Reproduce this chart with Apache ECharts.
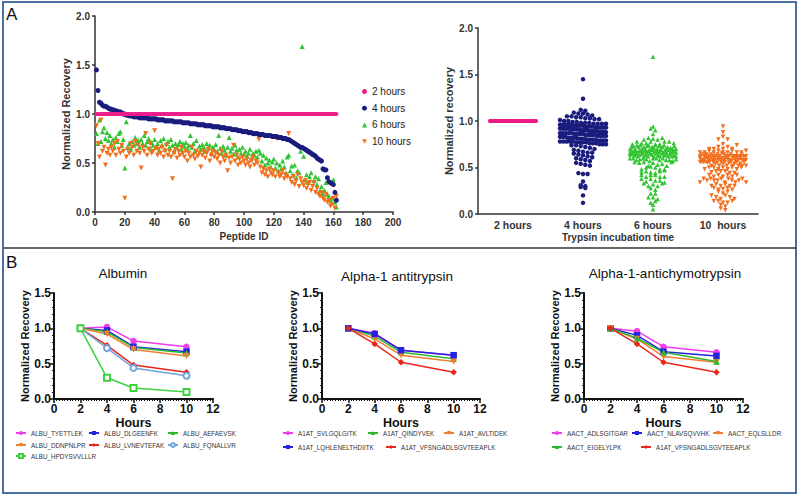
<!DOCTYPE html>
<html><head><meta charset="utf-8">
<script src="https://cdn.jsdelivr.net/npm/echarts@6.0.0/dist/echarts.min.js"></script>
<style>html,body{margin:0;padding:0;background:#fff}#c{width:800px;height:497px}</style>
</head><body><div id="c"></div>
<script>
// ---------- Panel A data (normalized recovery per peptide, sorted by 4 h) ----------
const rec2h = [
1,1,1,1,1,1,1,1,1,1, 1,1,1,1,1,1,1,1,1,1, 1,1,1,1,1,1,1,1,1,1, 1,1,1,1,1,1,1,1,1,1,
1,1,1,1,1,1,1,1,1,1, 1,1,1,1,1,1,1,1,1,1, 1,1,1,1,1,1,1,1,1,1, 1,1,1,1,1,1,1,1,1,1,
1,1,1,1,1,1,1,1,1,1, 1,1,1,1,1,1,1,1,1,1, 1,1,1,1,1,1,1,1,1,1, 1,1,1,1,1,1,1,1,1,1,
1,1,1,1,1,1,1,1,1,1, 1,1,1,1,1,1,1,1,1,1, 1,1,1,1,1,1,1,1,1,1, 1,1,1,1,1,1,1,1,1,1, 1,1];
const rec4h = [
1.45,1.24,1.12,1.11,1.09,1.08,1.08,1.07,1.06,1.05,
1.05,1.04,1.04,1.03,1.03,1.02,1.02,1.01,1.00,1.00,
0.99,0.99,0.98,0.98,0.98,0.97,0.97,0.97,0.97,0.96,
0.96,0.96,0.96,0.96,0.96,0.95,0.95,0.95,0.95,0.95,
0.95,0.94,0.94,0.94,0.94,0.94,0.93,0.93,0.93,0.93,
0.93,0.93,0.92,0.92,0.92,0.92,0.92,0.92,0.91,0.91,
0.91,0.91,0.91,0.90,0.90,0.90,0.90,0.90,0.89,0.89,
0.89,0.89,0.89,0.88,0.88,0.88,0.88,0.88,0.87,0.87,
0.87,0.87,0.87,0.86,0.86,0.86,0.86,0.85,0.85,0.85,
0.85,0.84,0.84,0.84,0.84,0.83,0.83,0.83,0.82,0.82,
0.82,0.82,0.81,0.81,0.81,0.80,0.80,0.80,0.80,0.79,
0.79,0.79,0.79,0.78,0.78,0.78,0.78,0.78,0.77,0.77,
0.77,0.77,0.76,0.76,0.76,0.75,0.75,0.75,0.74,0.74,
0.73,0.72,0.71,0.70,0.69,0.68,0.67,0.66,0.66,0.65,
0.64,0.63,0.62,0.61,0.60,0.59,0.58,0.57,0.55,0.54,
0.53,0.52,0.44,0.43,0.43,0.35,0.31,0.30,0.29,0.28,0.20,0.12];
const rec6h = [
0.80,0.70,0.94,0.72,0.82,0.86,0.75,0.81,0.73,0.78,
0.70,0.74,0.66,0.76,0.72,0.80,0.82,0.68,0.74,0.45,
0.92,0.66,0.70,0.64,0.72,0.68,0.76,0.70,0.73,0.66,
0.74,0.70,0.78,0.68,0.72,0.75,0.65,0.71,0.68,0.74,
0.66,0.70,0.63,0.73,0.68,0.75,0.64,0.70,0.72,0.66,
0.74,0.68,0.62,0.70,0.66,0.69,0.72,0.64,0.70,0.67,
0.71,0.65,0.68,0.78,0.66,0.70,0.62,0.73,0.90,0.67,
0.64,0.69,0.66,0.62,0.70,0.65,0.68,0.60,0.66,0.64,
0.69,0.62,0.78,0.65,0.60,0.67,0.63,0.58,0.66,0.76,
0.62,0.65,0.59,0.68,0.63,0.56,0.64,0.60,0.66,0.59,
0.62,0.57,0.60,0.64,0.55,0.60,0.58,0.62,0.56,0.63,
0.60,0.52,0.58,0.48,0.55,0.50,0.53,0.46,0.51,0.54,
0.45,0.50,0.42,0.48,0.44,0.52,0.46,0.40,0.56,0.58,
0.42,0.47,0.38,0.48,0.35,0.42,0.40,0.62,1.69,0.57,
0.33,0.38,0.30,0.36,0.40,0.59,0.32,0.36,0.28,0.34,
0.22,0.26,0.18,0.22,0.30,0.18,0.16,0.12,0.14,0.33,0.10,0.05];
const rec10h = [
0.88,0.70,0.56,0.94,0.62,0.66,0.48,0.60,0.64,0.58,
0.66,0.62,0.70,0.58,0.72,0.64,0.60,0.68,0.62,0.14,
0.56,0.64,0.60,0.70,0.66,0.58,0.72,0.62,0.68,0.60,
0.45,0.66,0.62,0.80,0.58,0.64,0.70,0.60,0.62,0.83,
0.65,0.58,0.64,0.60,0.66,0.56,0.62,0.68,0.58,0.62,
0.56,0.34,0.60,0.64,0.55,0.62,0.58,0.66,0.60,0.56,
0.62,0.52,0.60,0.56,0.66,0.58,0.54,0.62,0.57,0.60,
0.46,0.58,0.62,0.55,0.60,0.64,0.52,0.58,0.62,0.56,
0.60,0.54,0.58,0.50,0.62,0.56,0.52,0.58,0.42,0.55,
0.50,0.56,0.68,0.52,0.58,0.48,0.54,0.50,0.56,0.52,
0.48,0.54,0.50,0.46,0.52,0.56,0.48,0.52,0.50,0.74,
0.46,0.40,0.44,0.38,0.42,0.36,0.44,0.40,0.38,0.42,
0.36,0.75,0.40,0.36,0.38,0.42,0.34,0.38,0.36,0.80,
0.34,0.30,0.36,0.28,0.32,0.38,0.26,0.34,0.30,0.27,
0.32,0.24,0.28,0.30,0.22,0.26,0.30,0.20,0.24,0.18,
0.16,0.20,0.14,0.12,0.18,0.10,0.12,0.06,0.08,0.14,0.04,0.16];
const seriesNamesA = ['2 hours','4 hours','6 hours','10 hours'];
const timeCats = ['2 hours','4 hours','6 hours','10  hours'];

// ---------- Panel B data ----------
const hours = [2,4,6,10];
const albuNames = ['ALBU_TYETTLEK','ALBU_DLGEENFK','ALBU_AEFAEVSK','ALBU_DDNPNLPR','ALBU_LVNEVTEFAK','ALBU_FQNALLVR','ALBU_HPDYSVVLLLR'];
const albuVals = [
  [1.00,1.02,0.82,0.74],
  [1.00,0.97,0.74,0.67],
  [1.00,0.95,0.73,0.65],
  [1.00,0.92,0.70,0.61],
  [1.00,0.76,0.48,0.38],
  [1.00,0.72,0.44,0.33],
  [1.00,0.30,0.155,0.10]];
const a1atNames = ['A1AT_SVLGQLGITK','A1AT_QINDYVEK','A1AT_AVLTIDEK','A1AT_LQHLENELTHDIITK','A1AT_VFSNGADLSGVTEEAPLK'];
const a1atVals = [
  [1.00,0.93,0.69,0.62],
  [1.00,0.89,0.66,0.57],
  [1.00,0.85,0.62,0.53],
  [1.00,0.92,0.69,0.62],
  [1.00,0.78,0.52,0.38]];
const aactNames = ['AACT_ADLSGITGAR','AACT_NLAVSQVVHK','AACT_EQLSLLDR','AACT_EIGELYLPK','A1AT_VFSNGADLSGVTEEAPLK'];
const aactVals = [
  [1.00,0.96,0.74,0.66],
  [1.00,0.90,0.67,0.61],
  [1.00,0.85,0.60,0.52],
  [1.00,0.86,0.66,0.53],
  [1.00,0.78,0.52,0.38]];

// ---------- styles ----------
const DOWN = 'path://M0,0L10,0L5,9Z';
const colA = {'2 hours':'#ee1d8a','4 hours':'#1a1c7e','6 hours':'#33c433','10 hours':'#f26f1e'};
const symA = {'2 hours':'circle','4 hours':'circle','6 hours':'triangle','10 hours':DOWN};
const sizeA = {'2 hours':4,'4 hours':5,'6 hours':5,'10 hours':5};
const styB = {
  magenta:{c:'#ee3cee',s:'circle'}, blue:{c:'#2323e0',s:'rect'}, green:{c:'#2fb82f',s:'triangle'},
  orange:{c:'#f08030',s:DOWN}, red:{c:'#e8261c',s:'diamond'}, ltblue:{c:'#6fa3dc',s:'emptyCircle'},
  ltgreen:{c:'#3dd23d',s:'emptyRect'}};
const albuSty = ['magenta','blue','green','orange','red','ltblue','ltgreen'];
const a1atSty = ['magenta','green','orange','blue','red'];
const aactSty = ['magenta','blue','orange','green','red'];

const chart = echarts.init(document.getElementById('c'), null, {renderer:'svg'});
const FONT = 'Liberation Sans, Arial, sans-serif';

function beeswarm(vals, cat){
  const binH = 0.045, sp = 4.6, maxW = 46;
  const bins = {};
  vals.forEach(v => { const k = Math.round(v/binH); (bins[k] = bins[k] || []).push(v); });
  const out = [];
  Object.keys(bins).forEach(k => {
    const arr = bins[k], n = arr.length;
    const s = n > 1 ? Math.min(sp, maxW/(n-1)) : 0;
    arr.forEach((v,i) => out.push({value:[cat, v], symbolOffset:[(i-(n-1)/2)*s, 0]}));
  });
  return out;
}

const grids = [
  {left:95, top:16, width:298, height:196},
  {left:478, top:28, width:280, height:186},
  {left:54, top:293, width:159, height:106},
  {left:322, top:293, width:158, height:106},
  {left:584, top:293, width:159, height:106}
];
const axA = {color:'#333', width:1.5};
const lblA = {fontSize:10, fontWeight:'bold', color:'#333', fontFamily:FONT};
const xAxes = [
  {gridIndex:0, type:'value', min:0, max:200, interval:20, splitLine:{show:false},
   axisLine:{lineStyle:axA}, axisTick:{length:3, lineStyle:axA}, axisLabel:Object.assign({margin:5}, lblA),
   name:'Peptide ID', nameLocation:'middle', nameGap:19, nameTextStyle:lblA},
  {gridIndex:1, type:'category', data:timeCats, boundaryGap:true,
   axisLine:{lineStyle:axA}, axisTick:{alignWithLabel:true, length:3, lineStyle:axA},
   axisLabel:Object.assign({margin:5}, lblA, {fontSize:10.5}),
   name:'Trypsin incubation time', nameLocation:'middle', nameGap:18, nameTextStyle:lblA}
];
const yAxes = [
  {gridIndex:0, type:'value', min:0, max:2, interval:0.5, splitLine:{show:false},
   axisLine:{show:true, lineStyle:axA}, axisTick:{show:true, length:3, lineStyle:axA},
   axisLabel:Object.assign({formatter:v=>v.toFixed(1), margin:5}, lblA),
   name:'Normalized Recovery', nameLocation:'middle', nameGap:24, nameTextStyle:Object.assign({}, lblA, {fontSize:11})},
  {gridIndex:1, type:'value', min:0, max:2, interval:0.5, splitLine:{show:false},
   axisLine:{show:true, lineStyle:axA}, axisTick:{show:true, length:3, lineStyle:axA},
   axisLabel:Object.assign({formatter:v=>v.toFixed(1), margin:5}, lblA),
   name:'Normalized recovery', nameLocation:'middle', nameGap:24, nameTextStyle:Object.assign({}, lblA, {fontSize:11})}
];
const axB = {color:'#111', width:2};
const lblB = {fontSize:12, fontWeight:'bold', color:'#111', fontFamily:FONT};
for (let g = 2; g <= 4; g++) {
  xAxes.push({gridIndex:g, type:'value', min:0, max:12, interval:2, splitLine:{show:false},
    axisLine:{lineStyle:axB}, axisTick:{length:4, lineStyle:{color:'#111', width:1.5}},
    minorTick:{show:true, splitNumber:10, length:2, lineStyle:{color:'#111', width:1}},
    axisLabel:Object.assign({margin:4}, lblB),
    name:'Hours', nameLocation:'middle', nameGap:17, nameTextStyle:Object.assign({}, lblB, {fontSize:12.5})});
  yAxes.push({gridIndex:g, type:'value', min:0, max:1.5, interval:0.5, splitLine:{show:false},
    axisLine:{show:true, lineStyle:axB}, axisTick:{show:true, length:4, lineStyle:{color:'#111', width:1.5}},
    minorTick:{show:true, splitNumber:5, length:2, lineStyle:{color:'#111', width:1}},
    axisLabel:Object.assign({formatter:v=>v.toFixed(1), margin:3}, lblB),
    name:'Normalized Recovery', nameLocation:'middle', nameGap:20, nameTextStyle:Object.assign({}, lblB, {fontSize:11})});
}

const series = [];
const dataA = {'2 hours':rec2h,'4 hours':rec4h,'6 hours':rec6h,'10 hours':rec10h};
['6 hours','10 hours','4 hours','2 hours'].forEach(n => {
  series.push({type:'scatter', name:n, xAxisIndex:0, yAxisIndex:0, symbol:symA[n], symbolSize:sizeA[n],
    itemStyle:{color:colA[n], opacity:1}, emphasis:{disabled:true}, silent:true,
    data:dataA[n].map((v,i)=>[i+1, v])});
});
seriesNamesA.forEach((n,ci) => {
  series.push({type:'scatter', name:n, xAxisIndex:1, yAxisIndex:1, symbol:symA[n], symbolSize:n==='2 hours'?4:4.5,
    itemStyle:{color:colA[n], opacity:1}, emphasis:{disabled:true}, silent:true,
    data:beeswarm(dataA[n], ci)});
});
function addLines(names, vals, stys, g){
  names.forEach((n,i) => {
    const st = styB[stys[i]];
    const empty = st.s.indexOf('empty') === 0;
    series.push({type:'line', name:n, xAxisIndex:g, yAxisIndex:g, symbol:st.s, symbolSize:empty?6:6.5,
      showAllSymbol:true, lineStyle:{color:st.c, width:1.5},
      itemStyle:{color:st.c, borderColor:st.c, borderWidth:empty?1.5:0},
      emphasis:{disabled:true}, silent:true,
      data:hours.map((h,j)=>[h, vals[i][j]])});
  });
}
addLines(albuNames, albuVals, albuSty, 2);
addLines(a1atNames, a1atVals, a1atSty, 3);
addLines(aactNames, aactVals, aactSty, 4);

// legends
const legends = [{
  data:seriesNamesA, orient:'vertical', left:362, top:85.5, padding:0, itemWidth:5, itemHeight:5, itemGap:4.7,
  selectedMode:false, textStyle:{fontSize:10, color:'#222', fontFamily:FONT, lineHeight:12}
}];
const legPos = [
  [albuNames[0],30,433],[albuNames[1],103,433],[albuNames[2],182,433],
  [albuNames[3],30,445],[albuNames[4],103,445],[albuNames[5],182,445],
  [albuNames[6],30,456],
  [a1atNames[0],297,433],[a1atNames[1],382,433],[a1atNames[2],458,433],
  [a1atNames[3],297,447],[a1atNames[4],400,447],
  [aactNames[0],566,433],[aactNames[1],646,433],[aactNames[2],727,433],
  [aactNames[3],566,447],[aactNames[4],655,447]
];
legPos.forEach(p => legends.push({data:[p[0]], left:p[1]-15, top:p[2]-4, padding:0, itemWidth:10, itemHeight:5,
  selectedMode:false, textStyle:{fontSize:6.3, color:'#333', fontFamily:FONT, lineHeight:8}}));

const txt = (t, x, y, size) => ({type:'text', left:x, top:y, style:{text:t, fontSize:size, fill:'#111', fontFamily:FONT}});
chart.setOption({
  animation:false,
  textStyle:{fontFamily:FONT},
  grid:grids, xAxis:xAxes, yAxis:yAxes, series:series, legend:legends,
  title:[
    {text:'Albumin', left:123, top:266, textAlign:'center', padding:0, textStyle:{fontSize:13.5, fontWeight:'normal', color:'#111', fontFamily:FONT}},
    {text:'Alpha-1 antitrypsin', left:397, top:269, textAlign:'center', padding:0, textStyle:{fontSize:13.5, fontWeight:'normal', color:'#111', fontFamily:FONT}},
    {text:'Alpha-1-antichymotrypsin', left:665, top:266, textAlign:'center', padding:0, textStyle:{fontSize:13.5, fontWeight:'normal', color:'#111', fontFamily:FONT}}
  ],
  graphic:[
    {type:'rect', shape:{x:3, y:2, width:793, height:491}, style:{fill:'none', stroke:'#4a6fa5', lineWidth:2}, silent:true},
    {type:'line', shape:{x1:4, y1:248, x2:796, y2:248}, style:{stroke:'#333', lineWidth:1.5}, silent:true},
    txt('A', 6, 6, 17), txt('B', 6, 254, 17)
  ]
});
</script></body></html>
